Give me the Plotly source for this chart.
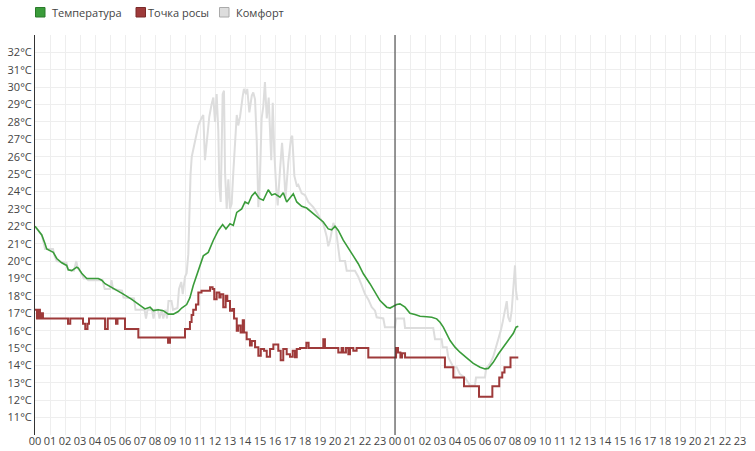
import plotly.graph_objects as go

# hours since 00:00 of the first day
temp_t = [0.00, 0.45, 0.67, 0.78, 1.22, 1.45, 1.78, 2.11, 2.22, 2.45, 2.78, 2.89, 3.11, 3.45,
          4.22, 4.45, 4.67, 5.11, 5.55, 5.89, 6.45, 6.89, 7.33, 7.67, 7.89, 8.22, 8.55, 8.89,
          9.22, 9.55, 9.78, 10.11, 10.33, 10.55, 10.78, 11.00, 11.22, 11.55, 11.89, 12.22,
          12.51, 12.73, 13.00, 13.22, 13.45, 13.78, 14.00, 14.22, 14.45, 14.67, 14.95, 15.22,
          15.55, 15.78, 16.00, 16.33, 16.55, 16.78, 17.00, 17.22, 17.45, 17.78, 18.11, 18.45,
          18.89, 19.22, 19.55, 19.78, 20.00, 20.22, 20.55, 20.89, 21.22, 21.55, 21.89, 22.33,
          22.67, 23.00, 23.45, 23.67, 24.11, 24.33, 24.67, 25.00, 25.33, 25.67, 26.11, 26.45,
          26.78, 27.00, 27.22, 27.45, 27.67, 28.00, 28.33, 28.78, 29.22, 29.67, 30.00, 30.22,
          30.55, 30.89, 31.22, 31.55, 31.89, 32.07, 32.22]
temp_v = [22.0, 21.5, 21.0, 20.7, 20.5, 20.15, 19.9, 19.75, 19.5, 19.45, 19.65, 19.6, 19.3, 19.0,
          19.0, 18.9, 18.7, 18.5, 18.3, 18.1, 17.8, 17.55, 17.25, 17.35, 17.15, 17.2, 17.15, 16.95,
          16.95, 17.1, 17.3, 17.5, 17.9, 18.6, 19.2, 19.8, 20.3, 20.5, 21.2, 21.76,
          22.1, 21.85, 22.15, 22.05, 22.8, 23.0, 23.4, 23.3, 23.75, 23.95, 23.6, 23.5,
          24.1, 23.8, 23.87, 23.67, 23.93, 23.4, 23.67, 23.87, 23.4, 23.15, 23.05, 22.8,
          22.53, 22.25, 21.85, 21.8, 22.0, 21.76, 21.2, 20.7, 20.3, 19.85, 19.27, 18.7,
          18.2, 17.73, 17.35, 17.3, 17.5, 17.54, 17.35, 17.0, 16.93, 16.83, 16.8, 16.77,
          16.68, 16.48, 16.2, 15.8, 15.43, 15.05, 14.76, 14.43, 14.12, 13.9, 13.8, 13.83,
          14.18, 14.66, 15.05, 15.47, 15.85, 16.2, 16.25]

dew_t = [0.00, 0.13, 0.23, 0.33, 0.43, 0.53, 2.20, 2.35, 3.20, 3.35, 3.50, 3.60, 4.67, 4.85,
         5.40, 5.50, 6.00, 6.89, 8.87, 9.00, 10.00, 10.33, 10.44, 10.55, 10.73, 10.89, 11.10,
         11.67, 11.84, 11.95, 12.11, 12.29, 12.38, 12.55, 12.71, 12.82, 13.00, 13.15, 13.27,
         13.45, 13.55, 13.71, 13.85, 13.93, 14.11, 14.33, 14.45, 14.67, 14.89, 15.05, 15.27,
         15.45, 15.67, 15.89, 16.11, 16.22, 16.38, 16.55, 16.78, 17.00, 17.18, 17.33, 17.45,
         17.67, 18.09, 18.24, 19.22, 19.33, 20.22, 20.44, 20.55, 20.73, 20.89, 21.00, 21.22,
         21.44, 22.22, 24.07, 24.20, 24.36, 24.47, 24.67, 27.33, 27.89, 28.60, 29.60, 30.49,
         30.95, 31.15, 31.30, 31.70, 32.22]
dew_v = [17.2, 16.7, 17.2, 16.7, 17.0, 16.7, 16.4, 16.7, 16.4, 16.1, 16.4, 16.7, 16.1, 16.7,
         16.4, 16.7, 16.1, 15.6, 15.3, 15.6, 16.1, 16.5, 16.9, 17.2, 17.5, 18.2, 18.3,
         18.5, 18.4, 17.8, 18.2, 17.9, 18.1, 17.35, 18.0, 17.7, 17.15, 17.25, 16.7,
         16.0, 16.3, 15.9, 16.6, 15.9, 15.5, 15.15, 15.4, 15.05, 14.55, 14.95, 14.85,
         14.5, 14.95, 15.2, 15.2, 14.85, 14.3, 14.95, 14.65, 14.5, 14.85, 14.47, 14.95,
         15.0, 15.3, 15.0, 15.5, 15.0, 14.75, 15.0, 14.75, 15.0, 14.65, 15.0, 14.85,
         15.0, 14.45, 15.0, 14.75, 14.45, 14.7, 14.45, 13.9, 13.3, 12.8, 12.2, 12.8,
         13.3, 13.6, 13.9, 14.45, 14.45]

comf_t = [0.00, 0.45, 0.60, 0.67, 1.20, 1.30, 1.45, 2.10, 2.20, 2.60, 2.75, 2.85, 3.10, 3.25,
          3.45, 3.55, 4.50, 4.65, 5.00, 5.10, 5.20, 5.80, 5.90, 6.60, 6.70, 7.30, 7.40, 7.50,
          7.80, 7.90, 8.00, 8.20, 8.30, 8.45, 8.55, 8.70, 8.80, 8.90, 9.10, 9.20, 9.50, 9.60,
          9.75, 9.85, 10.00, 10.11, 10.22, 10.29, 10.37, 10.45, 10.53, 10.67, 10.78, 10.89,
          11.11, 11.22, 11.33, 11.47, 11.62, 11.78, 11.89, 12.00, 12.11, 12.22, 12.29, 12.38,
          12.51, 12.60, 12.67, 12.78, 12.89, 13.00, 13.11, 13.22, 13.33, 13.45, 13.55, 13.67,
          13.85, 13.93, 14.07, 14.15, 14.29, 14.45, 14.55, 14.67, 14.78, 14.89, 15.00, 15.11,
          15.22, 15.33, 15.45, 15.58, 15.70, 15.75, 15.85, 15.95, 16.07, 16.18, 16.33, 16.47,
          16.60, 16.70, 16.89, 17.07, 17.15, 17.29, 17.45, 17.55, 17.78, 18.00, 18.22, 18.55,
          18.78, 19.00, 19.22, 19.45, 19.55, 19.67, 19.89, 20.07, 20.22, 20.33, 20.67, 20.78,
          21.33, 21.55, 21.78, 22.00, 22.22, 22.45, 22.67, 22.78, 23.22, 23.33, 24.00, 24.07,
          24.60, 24.67, 26.55, 26.67, 27.11, 27.18, 27.45, 27.55, 27.89, 28.11, 28.33, 28.67,
          29.00, 29.33, 29.40, 30.00, 30.07, 30.33, 30.55, 30.73, 30.89, 31.05, 31.18, 31.33,
          31.45, 31.55, 31.67, 31.78, 31.89, 32.00, 32.07, 32.15, 32.22]
comf_v = [22.0, 21.5, 21.0, 20.7, 20.7, 20.3, 20.0, 19.9, 19.5, 19.45, 20.0, 19.6, 19.3, 19.0,
          19.0, 18.9, 18.9, 18.4, 18.4, 18.9, 18.4, 18.3, 17.9, 17.85, 17.2, 17.2, 16.7, 17.2,
          17.2, 16.7, 17.2, 17.2, 16.7, 17.2, 16.7, 17.2, 16.7, 17.7, 17.7, 17.2, 17.3, 18.4,
          18.8, 18.1, 19.1, 19.3, 20.4, 23.5, 25.0, 26.0, 26.3, 26.8, 27.3, 27.8,
          28.25, 28.4, 25.8, 27.1, 28.3, 29.05, 29.4, 28.0, 29.6, 27.5, 24.3, 23.4,
          29.6, 29.8, 25.1, 23.0, 24.7, 23.0, 23.3, 25.1, 26.8, 28.4, 27.8, 28.3,
          29.5, 29.9, 29.6, 29.9, 28.55, 29.5, 29.7, 29.3, 27.0, 23.1, 24.9, 28.2,
          28.9, 30.3, 28.2, 29.4, 26.8, 25.8, 29.1, 26.3, 24.4, 23.2, 25.2, 26.8,
          25.2, 23.6, 25.7, 27.1, 27.2, 24.9, 24.35, 24.4, 23.9, 23.8, 23.4, 23.1,
          22.8, 22.5, 22.15, 21.4, 20.85, 21.2, 22.2, 21.76, 20.6, 20.0, 20.0, 19.45,
          19.45, 19.1, 18.6, 18.1, 17.8, 17.35, 17.15, 16.77, 16.7, 16.2, 16.2, 16.7,
          16.7, 16.15, 16.15, 15.5, 15.5, 15.05, 15.05, 14.47, 13.9, 13.9, 13.5, 13.3,
          12.85, 12.85, 13.3, 13.3, 13.8, 14.1, 14.5, 15.05, 15.4, 16.0, 16.5, 17.15,
          17.7, 16.77, 16.5, 17.15, 18.3, 19.75, 18.3, 17.8, 17.8]

hour_vals = list(range(48))
hour_text = ["%02d" % (h % 24) for h in hour_vals]
deg_vals = list(range(11, 33))
deg_text = ["%d°C" % d for d in deg_vals]

legend_names = ["Температура", "Точка росы", "Комфорт"]
colors = ["#3a9c3a", "#9e3a3a", "#dddddd"]
borders = ["#2a7a2a", "#7a2a2a", "#aaaaaa"]

fig = go.Figure()
fig.add_trace(go.Scatter(x=comf_t, y=comf_v, mode="lines", name=legend_names[2],
                         line=dict(color=colors[2], width=2), showlegend=False))
fig.add_trace(go.Scatter(x=dew_t, y=dew_v, mode="lines", name=legend_names[1],
                         line=dict(color=colors[1], width=2, shape="hv"), showlegend=False))
fig.add_trace(go.Scatter(x=temp_t, y=temp_v, mode="lines", name=legend_names[0],
                         line=dict(color=colors[0], width=1.6), showlegend=False))

# midnight separator
fig.add_vline(x=24, line=dict(color="#333333", width=1))

# hand-made legend (squares + labels) in pixel terms
L, T, W, H = 35, 35, 720, 400
def px(x):
    return (x - L) / W
def py(y):
    return (T + H - y) / H

sq_x = [35.5, 136, 219.5]
txt_x = [50, 146, 234]
for i in range(3):
    fig.add_shape(type="rect", xref="paper", yref="paper",
                  x0=px(sq_x[i]), x1=px(sq_x[i] + 9.5), y0=py(17), y1=py(7.5),
                  fillcolor=colors[i], line=dict(color=borders[i], width=1))
    fig.add_annotation(xref="paper", yref="paper", x=px(txt_x[i]), y=py(12.5),
                       text=legend_names[i], showarrow=False, xanchor="left", yanchor="middle",
                       font=dict(size=11, color="#444444"))

fig.update_layout(
    width=755, height=451,
    margin=dict(l=L, r=0, t=T, b=16),
    paper_bgcolor="white", plot_bgcolor="white",
    font=dict(family="Open Sans", size=11, color="#444444"),
    showlegend=False,
    xaxis=dict(range=[0, 48], tickvals=hour_vals, ticktext=hour_text, showgrid=True,
               gridcolor="#eeeeee", gridwidth=1, zeroline=False, showline=False, ticks="",
               automargin=False, ticklabelstandoff=-2,
               tickfont=dict(size=11, color="#444444")),
    yaxis=dict(range=[10, 33], tickvals=deg_vals, ticktext=deg_text, showgrid=True,
               gridcolor="#eeeeee", gridwidth=1, zeroline=False, showline=True,
               linecolor="#333333", linewidth=1, ticks="", automargin=False,
               tickfont=dict(size=11, color="#444444")),
)

# page has a default body margin; drop it so the chart sits at the window corner
fig.write_html("out.html", config={"displayModeBar": False},
               post_script="document.body.style.margin='0';")
